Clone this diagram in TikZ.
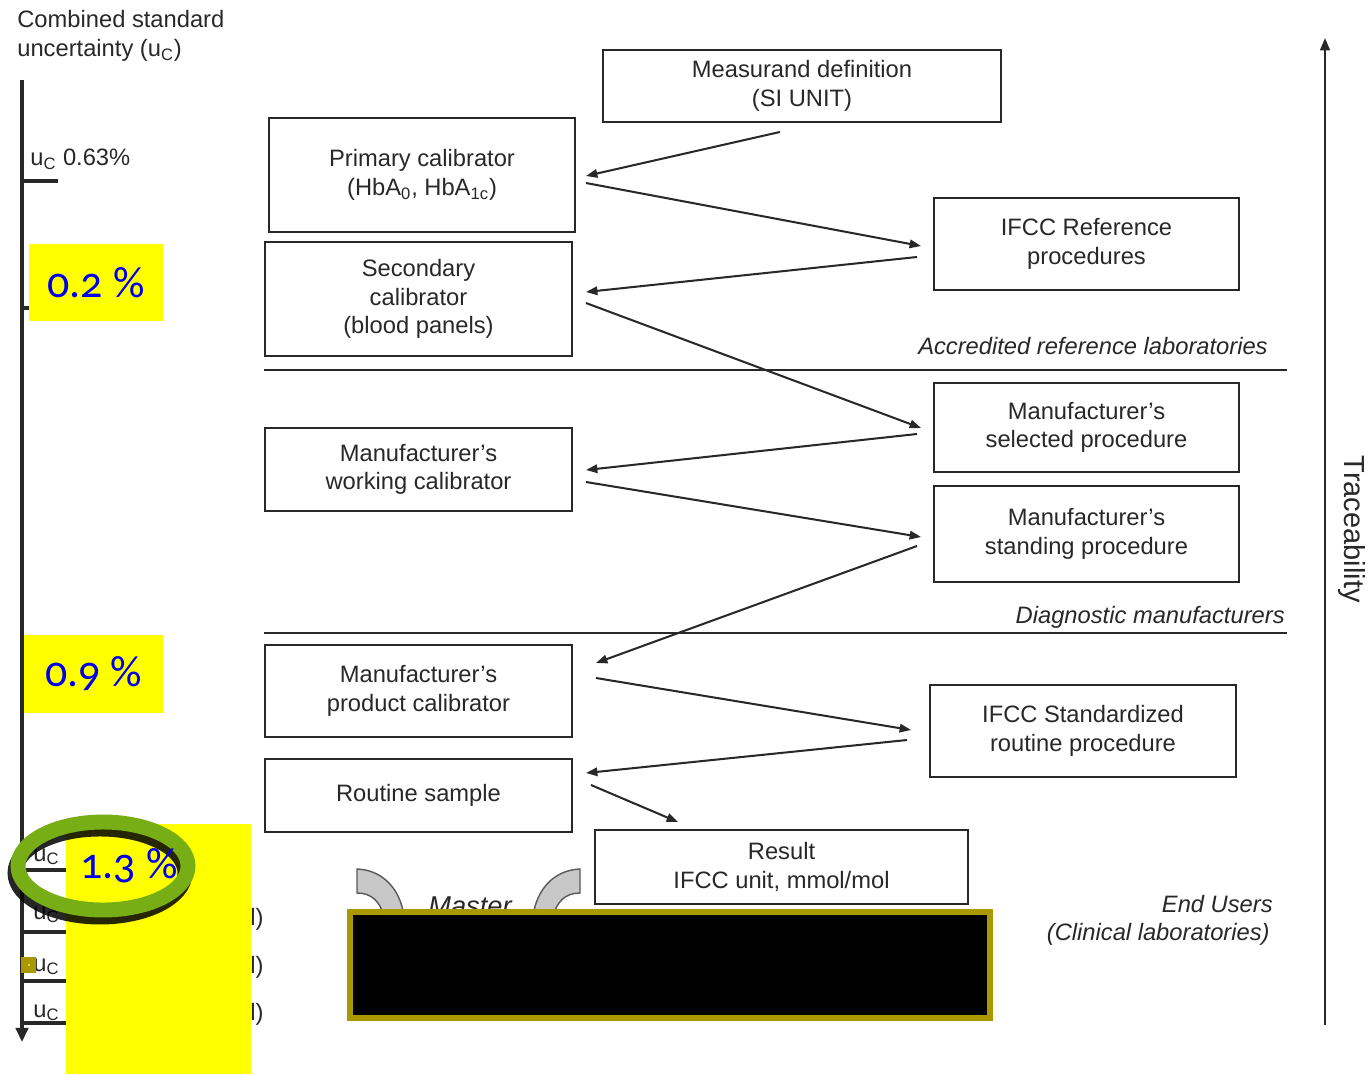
\documentclass[tikz,border=0pt]{standalone}
\usepackage{fontspec}
\setmainfont{Liberation Sans}
\newfontfamily\pctfont[Numbers=OldStyle]{Carlito}
\usetikzlibrary{arrows.meta}
\definecolor{ink}{RGB}{40,40,40}
\definecolor{olivebar}{RGB}{170,152,0}
\definecolor{ringgreen}{RGB}{119,174,22}
\definecolor{pctblue}{RGB}{0,0,235}
\definecolor{hiyellow}{RGB}{255,255,0}
\definecolor{bandgray}{RGB}{200,200,200}

\begin{document}
\begin{tikzpicture}[x=0.02cm,y=-0.02cm,
  lab/.style={font=\fontsize{13.5}{16.2}\selectfont, text=ink, inner sep=0pt},
  itl/.style={font=\fontsize{13.5}{16.2}\selectfont\itshape, text=ink, inner sep=0pt},
  box/.style={draw=ink, line width=1.1pt, align=center, inner sep=0pt,
              font=\fontsize{13.5}{16.2}\selectfont, text=ink},
  sz/.style 2 args={minimum width=#1*0.02cm, minimum height=#2*0.02cm},
  arr/.style={draw=ink, line width=1.15pt, -{Triangle[length=6.5pt,width=4.8pt]}},
  rule/.style={draw=ink, line width=1.1pt},
  pct/.style={fill=hiyellow, text=pctblue, inner sep=0pt,
              font=\pctfont\fontsize{25}{28}\selectfont},
  band/.style={fill=bandgray, draw=black!65, line width=0.8pt}
]
% canvas
\fill[white] (0,0) rectangle (1371,1074);
\useasboundingbox (0,0) rectangle (1371,1074);

% ---------- uncertainty axis ----------
\node[lab, align=left, anchor=west] (axtitle) at (17,36)
  {Combined standard\\uncertainty (u\textsubscript{C})};
\coordinate (axtop) at (22,80);
\coordinate (axbot) at (22,1042);
\draw[draw=ink, line width=1.8pt, -{Triangle[length=8pt,width=7pt]}] (axtop) -- (axbot);
\draw[draw=ink, line width=1.8pt] (22,181) -- (58,181);
\node[lab, anchor=base west] (uc063) at (30,166) {u\textsubscript{C} 0.63\%};
\draw[draw=ink, line width=1.8pt] (22,308) -- (60,308);
\draw[draw=ink, line width=1.8pt] (22,699) -- (60,699);
\foreach \yy in {870,932,981,1023}
  \draw[draw=ink, line width=1.8pt] (22,\yy) -- (80,\yy);
\foreach \yy/\nm in {861/ua,919/ub,971/uc,1017/ud}
  \node[lab, anchor=base west] (\nm) at (33,\yy) {u\textsubscript{C}};
\foreach \yy/\nm in {925/ea,973/eb,1020/ec}
  \node[lab, anchor=base west] (\nm) at (250,\yy) {l)};

% highlighted percentages
\node[pct, sz={134}{77}] (p02) at (96,282.5) {0.2 \%};
\node[pct, sz={139}{78}] (p09) at (93.5,674) {0.9 \%};
\node[pct, sz={185}{250}] (p13box) at (158.5,949) {};
\draw[black, opacity=0.85, line width=8.5pt] (100,873) ellipse [x radius=85, y radius=44];
\draw[ringgreen, line width=8.5pt] (103,866) ellipse [x radius=85, y radius=44];
\node[text=pctblue, inner sep=0pt, font=\pctfont\fontsize{25}{28}\selectfont]
  (p13) at (129,866) {1.3 \%};
\fill[olivebar] (21,957) rectangle (36,973);
\fill[hiyellow!70!olivebar] (27.5,963.5) rectangle (29.5,965.5);

% ---------- procedure boxes ----------
\node[box, sz={398}{72}] (meas) at (802,86) {Measurand definition\\(SI UNIT)};
\node[box, sz={306}{114}] (prim) at (422,175)
  {Primary calibrator\\(HbA\textsubscript{0}, HbA\textsubscript{1c})};
\node[box, sz={307}{114}] (sec) at (418.5,299) {Secondary\\calibrator\\(blood panels)};
\node[box, sz={305}{92}] (ref) at (1086.5,244) {IFCC Reference\\procedures};
\node[box, sz={305}{89}] (msel) at (1086.5,427.5) {Manufacturer's\\selected procedure};
\node[box, sz={307}{83}] (work) at (418.5,469.5) {Manufacturer's\\working calibrator};
\node[box, sz={305}{96}] (mstand) at (1086.5,534) {Manufacturer's\\standing procedure};
\node[box, sz={307}{92}] (prod) at (418.5,691) {Manufacturer's\\product calibrator};
\node[box, sz={306}{92}] (std) at (1083,731) {IFCC Standardized\\routine procedure};
\node[box, sz={307}{73}] (rout) at (418.5,795.5) {Routine sample};
\node[box, sz={373}{74}] (res) at (781.5,867) {Result\\IFCC unit, mmol/mol};

% ---------- zig-zag connectors ----------
\draw[arr] ([shift={(-22,9)}]meas.south) -- ([shift={(10,1)}]prim.east);
\draw[arr] ([shift={(10,8)}]prim.east) -- ([shift={(-12,2)}]ref.west);
\draw[arr] ([shift={(-16,13)}]ref.west) -- ([shift={(13,-7)}]sec.east);
\draw[arr] ([shift={(13,4)}]sec.east) -- ([shift={(-12,0.5)}]msel.west);
\draw[arr] ([shift={(-16,6.5)}]msel.west) -- ([shift={(13,0.5)}]work.east);
\draw[arr] ([shift={(13,12.5)}]work.east) -- ([shift={(-12,3)}]mstand.west);
\draw[arr] ([shift={(-16,12)}]mstand.west) -- ([shift={(23,-28)}]prod.east);
\draw[arr] ([shift={(23,-13)}]prod.east) -- ([shift={(-18,-1)}]std.west);
\draw[arr] ([shift={(-22,9)}]std.west) -- ([shift={(13,-22.5)}]rout.east);
\draw[arr] ([shift={(18,-10.5)}]rout.east) -- ([shift={(-103.5,-7)}]res.north);

% ---------- level separators ----------
\draw[rule] (264,370) -- (1287,370);
\node[itl, anchor=base east] (acc) at (1268,354) {Accredited reference laboratories};
\draw[rule] (264,633) -- (1287,633);
\node[itl, anchor=base east] (diag) at (1285,623) {Diagnostic manufacturers};
\node[itl, anchor=base east] (endu) at (1273,912) {End Users};
\node[itl, anchor=base east] (clin) at (1270,940) {(Clinical laboratories)};

% ---------- traceability axis ----------
\coordinate (trbot) at (1325,1025);
\coordinate (trtop) at (1325,38);
\draw[draw=ink, line width=1.2pt, -{Triangle[length=7pt,width=5.5pt]}] (trbot) -- (trtop);
\node[lab, font=\fontsize{16.5}{18}\selectfont, rotate=-90] (trace) at (1352,529) {Traceability};

% ---------- master label with curved bands ----------
\node[itl, font=\fontsize{15.5}{18}\selectfont\itshape, anchor=base] (master) at (470,915) {Master};
\path[band] (357,869) .. controls (382,870) and (400,888) .. (404,916)
  -- (384,916) .. controls (380,902) and (372,893) .. (357,893) -- cycle;
\path[band] (580,869) .. controls (555,870) and (537,888) .. (533,916)
  -- (553,916) .. controls (557,902) and (565,893) .. (580,893) -- cycle;
\draw[draw=olivebar, line width=3.4pt, fill=black] (350,912) rectangle (990,1018);
\end{tikzpicture}
\end{document}
